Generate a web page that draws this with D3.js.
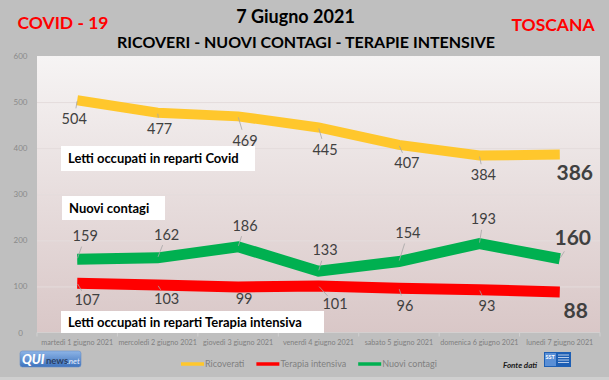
<!DOCTYPE html>
<html><head><meta charset="utf-8">
<script src="https://cdn.jsdelivr.net/npm/d3@7"></script>
<style>html,body{margin:0;padding:0;background:#bfbfbf;overflow:hidden}svg{display:block}</style>
</head><body><svg id="c" width="609" height="380"></svg>
<script>
// ---- data ----
const categories = ["martedì 1 giugno 2021","mercoledì 2 giugno 2021","giovedì 3 giugno 2021","venerdì 4 giugno 2021","sabato 5 giugno 2021","domenica 6 giugno 2021","lunedì 7 giugno 2021"];
const ricoverati = [504,477,469,445,407,384,386];
const terapiaIntensiva = [107,103,99,101,96,93,88];
const nuoviContagi = [159,162,186,133,154,193,160];
const yTickValues = [0,100,200,300,400,500,600];
const seriesNames = ["Ricoverati","Terapia intensiva","Nuovi contagi"];
const seriesColors = ["#ffc72c","#ff0000","#00b050"];
const titleLeft = "COVID - 19", titleRight = "TOSCANA", titleMain = "7 Giugno 2021";
const subtitle = "RICOVERI - NUOVI CONTAGI - TERAPIE INTENSIVE";
const boxTexts = ["Letti occupati in reparti Covid","Nuovi contagi","Letti occupati in reparti Terapia intensiva"];

// ---- layout (label offsets from points, px) ----
const offRic = [[-3,19],[2,16],[7,24],[6.5,22],[8,18],[4,19.5],[15,18]];
const offTer = [[10,17],[9,14],[6,12],[16.5,18],[6,17.7],[7.6,16.4],[16,18]];
const offCon = [[8,-23],[9,-23],[7,-21],[6.5,-21],[9,-28.5],[4,-24.6],[13,-21]];

const FONT = "Lato, 'Open Sans', sans-serif";
const svg = d3.select("#c").style("font-family", FONT);
const W = 609, H = 380;
const L = 37, R = 600, T = 56, B = 332.5;

svg.append("rect").attr("width",W).attr("height",H).attr("fill","#bfbfbf");
svg.append("rect").attr("x",0).attr("y",377).attr("width",W).attr("height",3).attr("fill","#cfcfcf");

const defs = svg.append("defs");
const g1 = defs.append("linearGradient").attr("id","pa").attr("x1",0).attr("y1",0).attr("x2",0).attr("y2",1);
g1.append("stop").attr("offset","0").attr("stop-color","#f6f4f4");
g1.append("stop").attr("offset","1").attr("stop-color","#d9c7c7");
const g2 = defs.append("linearGradient").attr("id","qui").attr("x1",0).attr("y1",0).attr("x2",0).attr("y2",1);
g2.append("stop").attr("offset","0").attr("stop-color","#8db4e6");
g2.append("stop").attr("offset","1").attr("stop-color","#3d72bd");

svg.append("rect").attr("x",L).attr("y",T).attr("width",R-L).attr("height",B-T).attr("fill","url(#pa)");

const x = d3.scaleBand().domain(categories).range([L,R]).paddingInner(0).paddingOuter(0);
const cx = c => x(c) + x.bandwidth()/2;
const y = d3.scaleLinear().domain([0,600]).range([B,T]);

// gridlines
svg.append("g").attr("transform",`translate(${L},0)`)
  .call(d3.axisLeft(y).tickValues(yTickValues.filter(v=>v>0&&v<600)).tickSize(-(R-L)).tickFormat(""))
  .call(g=>g.select(".domain").remove())
  .call(g=>g.selectAll("line").attr("stroke","#e4dcdc").attr("stroke-width",1));

// y axis labels
svg.append("g").attr("transform",`translate(${L},0)`)
  .call(d3.axisLeft(y).tickValues(yTickValues).tickSize(0).tickPadding(0))
  .call(g=>g.select(".domain").remove())
  .call(g=>g.selectAll("text").attr("x",-16.5).attr("text-anchor","middle")
     .attr("fill","#8a8a8a").style("font-size","8px").style("font-family",FONT));

// x axis
svg.append("line").attr("x1",L).attr("x2",R).attr("y1",B).attr("y2",B).attr("stroke","#d4d0d0");
const bounds = categories.map(c=>x(c)).concat([R]);
svg.append("g").selectAll("line").data(bounds).join("line")
  .attr("x1",d=>d).attr("x2",d=>d).attr("y1",B).attr("y2",B+4).attr("stroke","#d0d0d0");
svg.append("g").attr("transform",`translate(0,${B})`)
  .call(d3.axisBottom(x).tickSize(0).tickPadding(7))
  .call(g=>g.select(".domain").remove())
  .call(g=>g.selectAll("text").attr("fill","#7f7f7f").style("font-size","7.2px").style("font-family",FONT));

// lines
const line = d3.line().x((d,i)=>cx(categories[i])).y(d=>y(d));
const series = [ricoverati, terapiaIntensiva, nuoviContagi];
series.forEach((s,k)=>{
  svg.append("path").datum(s).attr("d",line).attr("fill","none")
    .attr("stroke",seriesColors[k]).attr("stroke-width",k===0?10:11)
    .attr("stroke-linejoin","miter").attr("stroke-linecap","butt");
});

// data labels + leaders
const offs = [offRic, offTer, offCon];
series.forEach((s,k)=>{
  const gL = svg.append("g");
  s.forEach((v,i)=>{
    const px = cx(categories[i]), py = y(v);
    const lx = px + offs[k][i][0], ly = py + offs[k][i][1];
    const last = i === s.length-1;
    const dx = lx-px, dy = ly-py, len = Math.hypot(dx,dy);
    if (!(last && k!==2) && len > 15) {
      const ux = dx/len, uy = dy/len;
      const e = last ? 16 : 11;
      gL.append("line").attr("x1",px+ux*1).attr("y1",py+uy*1)
        .attr("x2",lx-ux*e).attr("y2",ly-uy*e)
        .attr("stroke","#a6a6a6").attr("stroke-width",0.8);
    }
    gL.append("text").attr("x",lx).attr("y",ly).attr("dy","0.36em")
      .attr("text-anchor","middle").attr("fill","#404040")
      .style("font-size", last ? "21px" : "14.5px")
      .style("font-weight", last ? "700" : "400")
      .text(v);
  });
});

// text boxes
const boxes = [
  {x:61,y:146,w:194,h:25,t:boxTexts[0]},
  {x:62,y:196,w:103,h:24,t:boxTexts[1]},
  {x:61,y:311,w:263,h:22,t:boxTexts[2]}
];
boxes.forEach(b=>{
  svg.append("rect").attr("x",b.x).attr("y",b.y).attr("width",b.w).attr("height",b.h).attr("fill","#ffffff");
  svg.append("text").attr("x",b.x+7).attr("y",b.y+b.h/2).attr("dy","0.36em")
    .attr("fill","#000").style("font-size","13px").style("font-weight","700").text(b.t);
});

// titles
svg.append("text").attr("x",63).attr("y",29.3).attr("text-anchor","middle").attr("fill","#ff0000")
  .style("font-size","17.5px").style("font-weight","700").text(titleLeft);
svg.append("text").attr("x",553).attr("y",30.5).attr("text-anchor","middle").attr("fill","#ff0000")
  .style("font-size","17.5px").style("font-weight","700").text(titleRight);
svg.append("text").attr("x",295.5).attr("y",23.3).attr("text-anchor","middle").attr("fill","#000")
  .style("font-size","18px").style("font-weight","700").text(titleMain);
svg.append("text").attr("x",306).attr("y",48.3).attr("text-anchor","middle").attr("fill","#000")
  .style("font-size","16px").style("font-weight","700").text(subtitle);

// legend
const leg = svg.append("g");
let lx0 = 181;
seriesNames.forEach((n,k)=>{
  leg.append("line").attr("x1",lx0).attr("x2",lx0+23).attr("y1",364).attr("y2",364)
    .attr("stroke",seriesColors[k]).attr("stroke-width",3.5);
  const t = leg.append("text").attr("x",lx0+24).attr("y",364).attr("dy","0.36em")
    .attr("fill","#7f7f7f").style("font-size","9px").text(n);
  lx0 += 24 + t.node().getComputedTextLength() + 12;
});

// QUInews logo
const q = svg.append("g");
q.append("rect").attr("x",20).attr("y",351).attr("width",61).attr("height",16).attr("rx",2.5)
  .attr("fill","url(#qui)").attr("stroke","#6a8fc4").attr("stroke-width",0.6);
q.append("text").attr("x",22).attr("y",364).attr("fill","#fff").style("font-size","13px")
  .style("font-weight","900").style("font-style","italic").text("QUI");
q.append("text").attr("x",46).attr("y",364).attr("fill","#2a3f66").style("font-size","9.5px")
  .style("font-weight","700").text("news");
q.append("text").attr("x",67).attr("y",364).attr("fill","#e8f0ff").style("font-size","8px")
  .style("font-style","italic").text(".net");

// Fonte dati + SST logo
svg.append("text").attr("x",503).attr("y",365).attr("dy","0.36em").attr("fill","#1a1a1a")
  .style("font-size","8px").style("font-style","italic").style("font-weight","700").text("Fonte dati");
const s = svg.append("g");
s.append("rect").attr("x",544).attr("y",352).attr("width",27).attr("height",15).attr("fill","#1e5fb4");
s.append("rect").attr("x",545).attr("y",353).attr("width",11).attr("height",13).attr("fill","#5a8fd6");
s.append("text").attr("x",545.5).attr("y",358.5).attr("fill","#fff").style("font-size","5.5px").style("font-weight","700").text("SST");
[355,357.5,360,362.5].forEach(yy=>s.append("line").attr("x1",558).attr("x2",569).attr("y1",yy).attr("y2",yy)
  .attr("stroke","#dfe9f7").attr("stroke-width",0.8));
</script></body></html>
